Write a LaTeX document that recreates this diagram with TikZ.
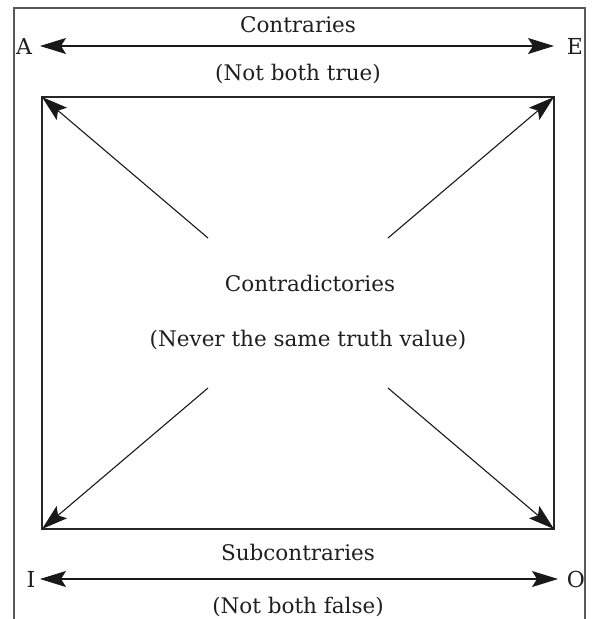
\documentclass[tikz,border=0pt]{standalone}
\usepackage{fontspec}
\setmainfont{DejaVu Serif}
\usetikzlibrary{arrows.meta}
\begin{document}
\begin{tikzpicture}[x=1pt,y=-1pt,
  tip/.tip={Stealth[length=26pt,width=16pt,inset=5pt]},
  frame/.style={line width=1.3pt,draw=black!65},
  rel/.style={line width=1.1pt,draw=black!90,-tip},
  biarrow/.style={line width=1.1pt,draw=black!90,tip-tip},
  lbl/.style={font=\fontsize{21.5}{26}\selectfont,text=black!88,inner sep=0pt},
  corner/.style={font=\fontsize{22}{26}\selectfont,text=black!88,inner sep=0pt}]
\useasboundingbox (0,0) rectangle (592,619);
% outer frame
\draw[frame] (14,619) -- (14,8) -- (585,8) -- (585,619);
% inner rectangle
\coordinate (tl) at (42,97);
\coordinate (tr) at (554,97);
\coordinate (bl) at (42,529);
\coordinate (br) at (554,529);
\draw[line width=1.1pt,draw=black!85] (tl) rectangle (br);
% corner labels
\node[corner] (A) at (24,46) {A};
\node[corner] (E) at (575,46) {E};
\node[corner] (I) at (31,579) {I};
\node[corner] (O) at (576,579) {O};
% arrow endpoints
\coordinate (aL) at (40,46);
\coordinate (aR) at (554,46);
\coordinate (iL) at (40,579);
\coordinate (iR) at (558,579);
\draw[biarrow] (aL) -- (aR);
\draw[biarrow] (iL) -- (iR);
% texts
\node[lbl] (contraries) at (298,25) {Contraries};
\node[lbl] (nbt) at (298,74) {(Not both true)};
\node[lbl] (contra) at (310,283) {Contradictories};
\node[lbl] (never) at (308,340) {(Never the same truth value)};
\node[lbl] (sub) at (298,552) {Subcontraries};
\node[lbl] (nbf) at (298,607) {(Not both false)};
% diagonals
\coordinate (d1) at (208,238);
\coordinate (d2) at (388,238);
\coordinate (d3) at (208,388);
\coordinate (d4) at (388,388);
\draw[rel] (d1) -- (tl);
\draw[rel] (d2) -- (tr);
\draw[rel] (d3) -- (bl);
\draw[rel] (d4) -- (br);
\end{tikzpicture}
\end{document}
